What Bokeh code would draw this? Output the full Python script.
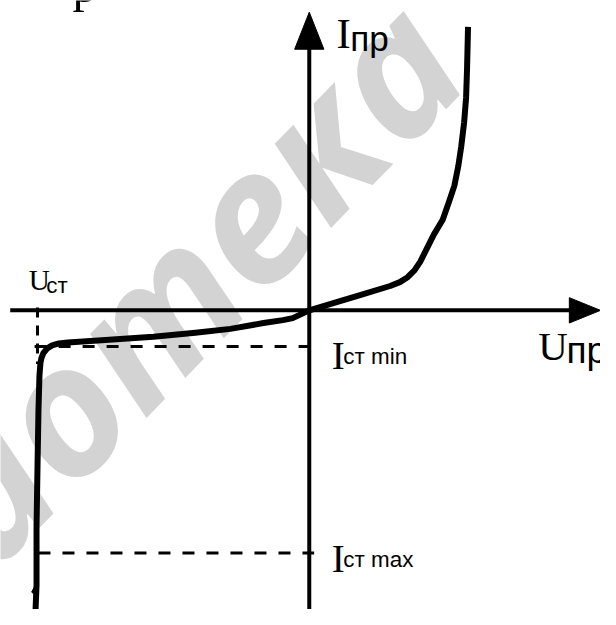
from bokeh.plotting import figure
from bokeh.models import Range1d, Label
from bokeh.core.properties import value
from bokeh.embed import file_html
from bokeh.resources import INLINE

# ---- data (schematic units: U in V, I in mA) ----
forward_u = [0.0, 2.3, 5.3, 8.3, 9.3, 10.1, 10.8, 11.4, 11.9, 12.8, 13.7, 14.4, 14.9, 15.3, 15.6, 15.9, 16.1, 16.2, 16.3]
forward_i = [0.0, 0.7, 1.6, 2.5, 2.9, 3.4, 4.1, 5.0, 6.0, 7.8, 9.3, 11.3, 12.8, 14.8, 16.8, 19.3, 21.8, 24.8, 29.1]

reverse_u = [0.0, -1.7, -2.7, -4.7, -8.1, -11.7, -16.0, -21.7, -24.8, -25.7, -26.4, -26.9, -27.3, -27.5, -27.6, -27.7, -27.8, -27.9, -28.0, -28.0, -28.1]
reverse_i = [0.0, -0.8, -1.0, -1.3, -1.9, -2.3, -2.7, -3.1, -3.3, -3.4, -3.6, -3.9, -4.4, -4.9, -5.4, -6.7, -10.2, -16.0, -22.2, -28.2, -30.7]

u_st = -27.9
i_st_min = -3.7
i_st_max = -24.9

axis_labels = ["I", "U"]
axis_subs = ["пр", "пр"]
level_sub_min = "ст min"
level_sub_max = "ст max"
ust_sub = "ст"
watermark = "Библиотека"

# ---- figure ----
x0, x1 = -31.7, 29.9
y0, y1 = -30.7, 31.8
S = 600 / 616.0

def fs(px):
    return "%.1fpx" % (px * S)

p = figure(width=600, height=609, output_backend="svg", toolbar_location=None,
           x_range=Range1d(x0, x1), y_range=Range1d(y0, y1),
           min_border=0, x_axis_location=None, y_axis_location=None)
p.grid.visible = False
p.outline_line_color = None
p.background_fill_color = "white"
p.border_fill_color = "white"

# watermark
p.text(x=[12.0], y=[28.9], text=[watermark], angle=0.80,
       text_align="right", text_baseline="alphabetic",
       text_font=value("Open Sans"), text_font_style="bold italic",
       text_font_size=value(fs(186)), text_color="#d3d3d3")

# axes with arrowheads
p.line([-30.7, 27.0], [0, 0], line_width=4, color="black")
p.patch([26.7, 26.7, 29.9], [1.3, -1.3, 0.0], color="black", line_width=1)
p.line([0, 0], [y0 - 1, 27.0], line_width=4, color="black")
p.patch([-1.5, 1.5, 0.0], [26.8, 26.8, 30.6], color="black", line_width=1)

# dashed level lines
p.line([u_st - 0.3, 0.5], [i_st_min, i_st_min], line_width=3, color="black", line_dash="12 12")
p.line([u_st + 0.1, 0.5], [i_st_max, i_st_max], line_width=3, color="black", line_dash="12 12")
p.line([u_st, u_st], [0.3, -5.5], line_width=3, color="black", line_dash="10 8")

# characteristic curve
curve_u = reverse_u[::-1] + forward_u[1:]
curve_i = reverse_i[::-1] + forward_i[1:]
p.line(curve_u, curve_i, line_width=6, color="black", line_join="round")
p.patch([u_st - 0.1, u_st - 0.6, u_st - 0.1], [-28.0, -28.9, -29.4], color="black")

serif = "Liberation Serif"
sans = "Liberation Sans"

def lab(x, y, t, font, size):
    p.add_layout(Label(x=x, y=y, text=t, text_font=font, text_font_size=fs(size),
                       text_color="black", text_baseline="alphabetic", text_align="left"))

# I_pr
lab(2.8, 28.4, axis_labels[0], serif, 44)
lab(4.2, 27.9, axis_subs[0], sans, 36)
# U_pr
lab(23.5, -3.7, axis_labels[1], serif, 42)
lab(26.4, -4.1, axis_subs[1], sans, 38)
# U_st
lab(u_st - 0.9, 3.1, "U", serif, 30)
lab(u_st + 0.9, 2.5, ust_sub, sans, 23)
# I_st min / max
lab(2.3, i_st_min - 0.9, "I", serif, 40)
lab(3.5, i_st_min - 1.0, level_sub_min, sans, 23)
lab(2.3, i_st_max - 0.6, "I", serif, 40)
lab(3.5, i_st_max - 0.7, level_sub_max, sans, 23)
# clipped fragment at top-left
lab(-24.3, 33.3, "р", serif, 50)

open("out.html", "w").write(file_html(p, INLINE))
